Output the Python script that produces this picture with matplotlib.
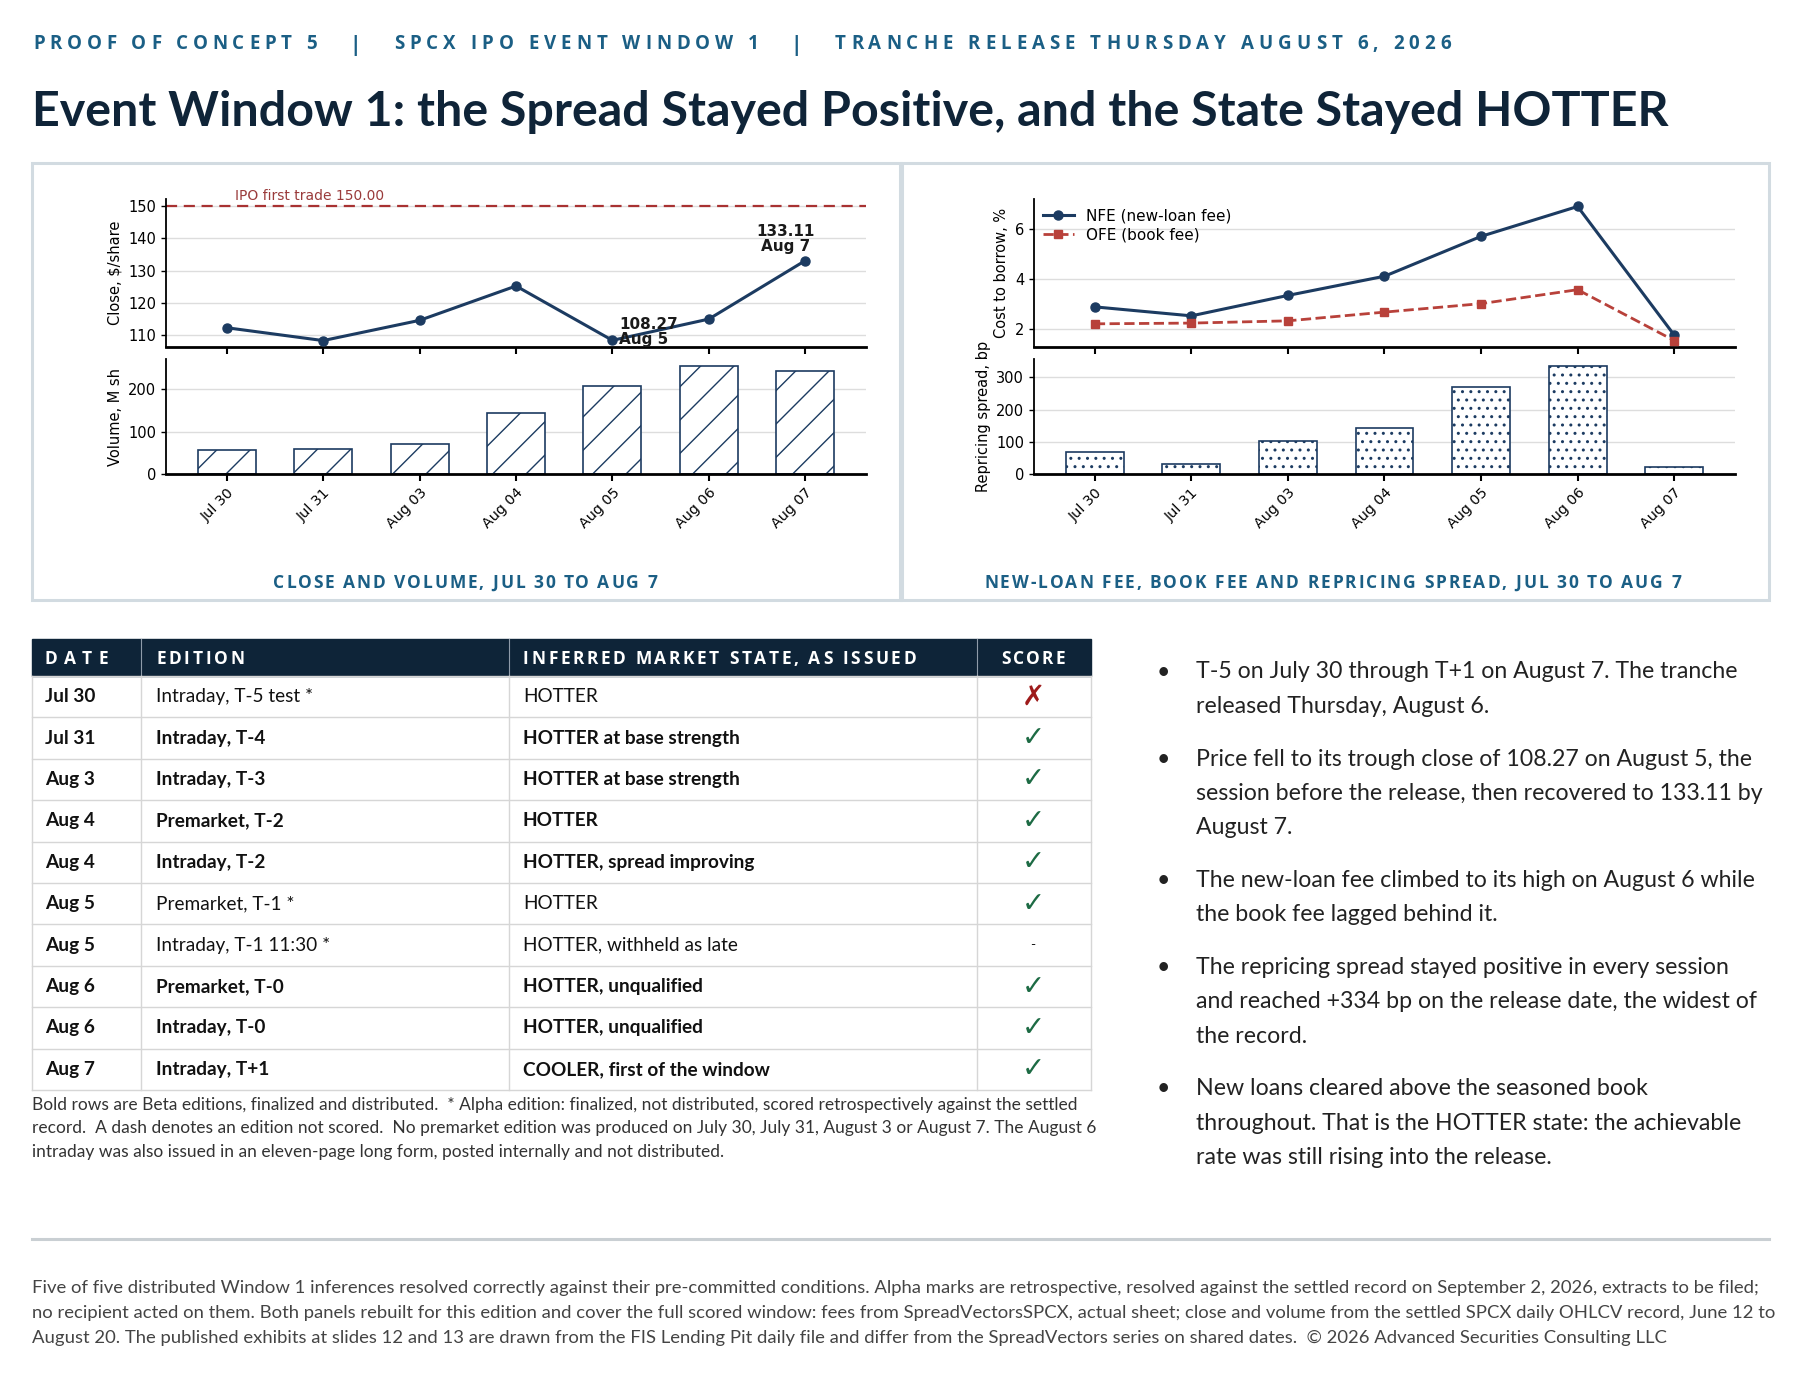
import matplotlib
matplotlib.use("Agg")
import matplotlib.pyplot as plt
from matplotlib.patches import Rectangle

# ---- chart data ----
dates = ["Jul 30", "Jul 31", "Aug 03", "Aug 04", "Aug 05", "Aug 06", "Aug 07"]
close = [112.2, 108.2, 114.5, 125.2, 108.27, 114.9, 133.11]
volume = [57, 60, 72, 145, 209, 256, 244]
nfe = [2.87, 2.51, 3.33, 4.10, 5.70, 6.90, 1.74]
ofe = [2.19, 2.22, 2.31, 2.66, 3.00, 3.56, 1.52]
spread = [68, 30, 102, 144, 270, 334, 22]
ipo_first_trade = 150.00

# ---- scorecard table ----
row_dates = ["Jul 30", "Jul 31", "Aug 3", "Aug 4", "Aug 4", "Aug 5", "Aug 5", "Aug 6", "Aug 6", "Aug 7"]
row_editions = ["Intraday, T-5 test *", "Intraday, T-4", "Intraday, T-3", "Premarket, T-2",
                "Intraday, T-2", "Premarket, T-1 *", "Intraday, T-1 11:30 *", "Premarket, T-0",
                "Intraday, T-0", "Intraday, T+1"]
row_states = ["HOTTER", "HOTTER at base strength", "HOTTER at base strength", "HOTTER",
              "HOTTER, spread improving", "HOTTER", "HOTTER, withheld as late",
              "HOTTER, unqualified", "HOTTER, unqualified", "COOLER, first of the window"]
row_scores = ["miss", "hit", "hit", "hit", "hit", "hit", "none", "hit", "hit", "hit"]
row_beta = [False, True, True, True, True, False, False, True, True, True]
table_heads = ["DATE", "EDITION", "INFERRED MARKET STATE, AS ISSUED", "SCORE"]

header_parts = ["PROOF OF CONCEPT 5", "SPCX IPO EVENT WINDOW 1", "TRANCHE RELEASE THURSDAY AUGUST 6, 2026"]
title = "Event Window 1: the Spread Stayed Positive, and the State Stayed HOTTER"
caption_left = "CLOSE AND VOLUME, JUL 30 TO AUG 7"
caption_right = "NEW-LOAN FEE, BOOK FEE AND REPRICING SPREAD, JUL 30 TO AUG 7"

bullets = [
    ["T-5 on July 30 through T+1 on August 7. The tranche",
     "released Thursday, August 6."],
    ["Price fell to its trough close of 108.27 on August 5, the",
     "session before the release, then recovered to 133.11 by",
     "August 7."],
    ["The new-loan fee climbed to its high on August 6 while",
     "the book fee lagged behind it."],
    ["The repricing spread stayed positive in every session",
     "and reached +334 bp on the release date, the widest of",
     "the record."],
    ["New loans cleared above the seasoned book",
     "throughout. That is the HOTTER state: the achievable",
     "rate was still rising into the release."],
]

table_note = [
    "Bold rows are Beta editions, finalized and distributed.  * Alpha edition: finalized, not distributed, scored retrospectively against the settled",
    "record.  A dash denotes an edition not scored.  No premarket edition was produced on July 30, July 31, August 3 or August 7. The August 6",
    "intraday was also issued in an eleven-page long form, posted internally and not distributed.",
]

footer = [
    "Five of five distributed Window 1 inferences resolved correctly against their pre-committed conditions. Alpha marks are retrospective, resolved against the settled record on September 2, 2026, extracts to be filed;",
    "no recipient acted on them. Both panels rebuilt for this edition and cover the full scored window: fees from SpreadVectorsSPCX, actual sheet; close and volume from the settled SPCX daily OHLCV record, June 12 to",
    "August 20. The published exhibits at slides 12 and 13 are drawn from the FIS Lending Pit daily file and differ from the SpreadVectors series on shared dates.  \u00a9 2026 Advanced Securities Consulting LLC",
]

TEAL = "#1b5f85"
INK = "#0f2438"
NAVY = "#1c3b61"
RED = "#b8413a"
BODY = ["Lato", "DejaVu Sans"]

W, H = 1800, 1378
fig = plt.figure(figsize=(W / 100, H / 100), dpi=100)
bg = fig.add_axes([0, 0, 1, 1], zorder=0)
bg.set_xlim(0, W)
bg.set_ylim(H, 0)
bg.axis("off")
renderer = fig.canvas.get_renderer()


def width_of(s, **kw):
    t = bg.text(0, 0, s, **kw)
    w = t.get_window_extent(renderer).width
    t.remove()
    return w


def fit_size(s, target, **kw):
    return 20 * target / width_of(s, fontsize=20, **kw)


def spaced(x, y, s, target, size, **kw):
    # letter-spaced caps: spread the glyphs so the string spans target px
    cache = {}
    for c in set(s):
        if c == " ":
            cache[c] = width_of("n n", fontsize=size, **kw) - width_of("nn", fontsize=size, **kw)
        else:
            cache[c] = width_of(c, fontsize=size, **kw)
    track = (target - sum(cache[c] for c in s)) / max(len(s) - 1, 1)
    for c in s:
        if c != " ":
            bg.text(x, y, c, fontsize=size, va="baseline", ha="left", **kw)
        x += cache[c] + track


# ---- header and title ----
hk = dict(family="Open Sans", fontweight="bold", color=TEAL)
spaced(33, 49, header_parts[0], 284, 13.5, **hk)
spaced(394, 49, header_parts[1], 365, 13.5, **hk)
spaced(835, 49, header_parts[2], 616, 13.5, **hk)
for xb in (355, 796):
    bg.text(xb, 51, "|", fontsize=15, va="baseline", ha="center", **hk)

ts = fit_size(title, 1638, family=BODY, fontweight="bold")
bg.text(32, 126, title, fontsize=ts, family=BODY, fontweight="bold", color=INK, va="baseline")

# ---- panel frames and captions ----
for (x0, x1) in ((32, 900), (902, 1769)):
    bg.add_patch(Rectangle((x0, 163), x1 - x0, 437, fill=False, ec="#d2dbe1", lw=2.2))
ck = dict(family="Open Sans", fontweight="bold", color=TEAL)
spaced(273, 588, caption_left, 384, 12.5, **ck)
spaced(984, 588, caption_right, 697, 12.5, **ck)


# ---- charts ----
def add_ax(left, top, right, bottom):
    return fig.add_axes([left / W, 1 - bottom / H, (right - left) / W, (bottom - top) / H], zorder=2)


x = list(range(len(dates)))


def style(ax, ylim, yticks):
    ax.set_xlim(-0.63, 6.63)
    ax.set_ylim(*ylim)
    ax.set_yticks(yticks)
    ax.set_xticks(x)
    for s in ("top", "right"):
        ax.spines[s].set_visible(False)
    ax.spines["left"].set_linewidth(1.3)
    ax.spines["bottom"].set_linewidth(2.0)
    ax.grid(axis="y", color="#dddddd", linewidth=1.0)
    ax.set_axisbelow(True)
    ax.tick_params(axis="y", labelsize=10.5, length=3.5, width=1)
    ax.tick_params(axis="x", labelsize=10.3, length=5, width=1.5)


plt.rcParams["hatch.linewidth"] = 1.0

ax1 = add_ax(166, 199, 866, 347)
style(ax1, (106.2, 152.3), [110, 120, 130, 140, 150])
ax1.plot(x, close, color=NAVY, lw=2.2, marker="o", ms=6.5, zorder=3)
ax1.axhline(ipo_first_trade, color="#a83232", ls="--", lw=1.6, dashes=(5, 3))
ax1.annotate("IPO first trade %.2f" % ipo_first_trade, (0.09, ipo_first_trade), xytext=(0, 2.5),
             textcoords="offset points", color="#9a3b3b", fontsize=10, va="bottom",
             annotation_clip=False)
ax1.annotate("%.2f\nAug 5" % close[4], (4, close[4]), xytext=(5, 6), textcoords="offset points",
             ha="left", va="center", fontsize=11, fontweight="bold", color="#1a1a1a",
             linespacing=1.0)
ax1.annotate("%.2f\nAug 7" % close[6], (6, close[6]), xytext=(-14, 5), textcoords="offset points",
             ha="center", va="bottom", fontsize=11, fontweight="bold", color="#1a1a1a",
             linespacing=1.0)
ax1.tick_params(axis="x", labelbottom=False)
ax1.set_ylabel(r"Close, \$/share", fontsize=10.5)

ax2 = add_ax(166, 359, 866, 474)
style(ax2, (0, 272), [0, 100, 200])
ax2.bar(x, volume, 0.6, color="white", edgecolor=NAVY, hatch="/", lw=1.2)
ax2.set_xticklabels(dates, rotation=45, ha="right", rotation_mode="anchor")
ax2.set_ylabel("Volume, M sh", fontsize=10.5)

ax3 = add_ax(1034, 199, 1735, 347)
style(ax3, (1.26, 7.2), [2, 4, 6])
ax3.plot(x, nfe, color=NAVY, lw=2.2, marker="o", ms=6.5, label="NFE (new-loan fee)", zorder=3)
ax3.plot(x, ofe, color=RED, lw=2.0, ls="--", marker="s", ms=6, label="OFE (book fee)", zorder=3)
ax3.tick_params(axis="x", labelbottom=False)
ax3.set_ylabel("Cost to borrow, %", fontsize=10.5)
ax3.legend(loc="upper left", frameon=False, fontsize=11, handlelength=2.0,
           borderaxespad=0.2, labelspacing=0.3)

ax4 = add_ax(1034, 359, 1735, 474)
style(ax4, (0, 357), [0, 100, 200, 300])
ax4.bar(x, spread, 0.6, color="white", edgecolor=NAVY, hatch="..", lw=1.2)
ax4.set_xticklabels(dates, rotation=45, ha="right", rotation_mode="anchor")
ax4.set_ylabel("Repricing spread, bp", fontsize=10.5)

# ---- scorecard table ----
col_x = [32, 141, 509, 977, 1091]
head_top, head_bot, tab_bot = 639, 676, 1090
row_h = (tab_bot - head_bot) / len(row_dates)
bg.add_patch(Rectangle((col_x[0], head_top), col_x[-1] - col_x[0], head_bot - head_top,
                       color="#0e2438", zorder=1))
for cx in col_x[1:-1]:
    bg.plot([cx, cx], [head_top, head_bot], color="#8f9caa", lw=0.8, zorder=2)
for i in range(len(row_dates) + 1):
    yy = head_bot + i * row_h
    bg.plot([col_x[0], col_x[-1]], [yy, yy], color="#d6d6d6", lw=1.0, zorder=2)
for cx in col_x:
    bg.plot([cx, cx], [head_bot, tab_bot], color="#d6d6d6", lw=1.0, zorder=2)

thk = dict(family="Open Sans", fontweight="bold", color="white")
spaced(45, 664, table_heads[0], 63, 12.5, zorder=3, **thk)
spaced(156, 664, table_heads[1], 88, 12.5, zorder=3, **thk)
spaced(523, 664, table_heads[2], 393, 12.5, zorder=3, **thk)
spaced(1001, 664, table_heads[3], 64, 12.5, zorder=3, **thk)

fs_tab = fit_size("HOTTER at base strength", 216, family=BODY, fontweight="bold")
for i in range(len(row_dates)):
    yc = head_bot + (i + 0.5) * row_h
    w = "bold" if row_beta[i] else "normal"
    bg.text(45, yc, row_dates[i], fontsize=fs_tab, family=BODY, fontweight="bold",
            color="#111111", va="center")
    bg.text(156, yc, row_editions[i], fontsize=fs_tab, family=BODY, fontweight=w,
            color="#111111", va="center")
    bg.text(523, yc, row_states[i], fontsize=fs_tab, family=BODY, fontweight=w,
            color="#111111", va="center")
    if row_scores[i] == "hit":
        bg.text(1033, yc, "\u2713", fontsize=20, family="DejaVu Sans", color="#1d6b44",
                ha="center", va="center")
    elif row_scores[i] == "miss":
        bg.text(1033, yc, "\u2717", fontsize=20, family="DejaVu Sans", color="#9e1b1b",
                ha="center", va="center")
    else:
        bg.text(1033, yc, "-", fontsize=10, family=BODY, color="#111111", ha="center", va="center")

fs_note = fit_size(table_note[0], 1046, family=BODY)
for i, line in enumerate(table_note):
    bg.text(32, 1105 + i * 23.5, line, fontsize=fs_note, family=BODY, color="#333333", va="center")

# ---- bullets ----
fs_b = fit_size(bullets[1][1], 569, family=BODY)
yb = 672
for para in bullets:
    bg.text(1163, yb, "\u2022", fontsize=fs_b, family=BODY, color="#222222", va="center", ha="center")
    for line in para:
        bg.text(1196, yb, line, fontsize=fs_b, family=BODY, color="#222222", va="center")
        yb += 34.3
    yb += 18.5

# ---- footer ----
bg.plot([32, 1769], [1239, 1239], color="#c9cfd3", lw=2.2)
fs_f = fit_size(footer[0], 1730, family=BODY)
for i, line in enumerate(footer):
    bg.text(32, 1288 + i * 25, line, fontsize=fs_f, family=BODY, color="#444444", va="center")

fig.savefig("out.png", dpi=100)
